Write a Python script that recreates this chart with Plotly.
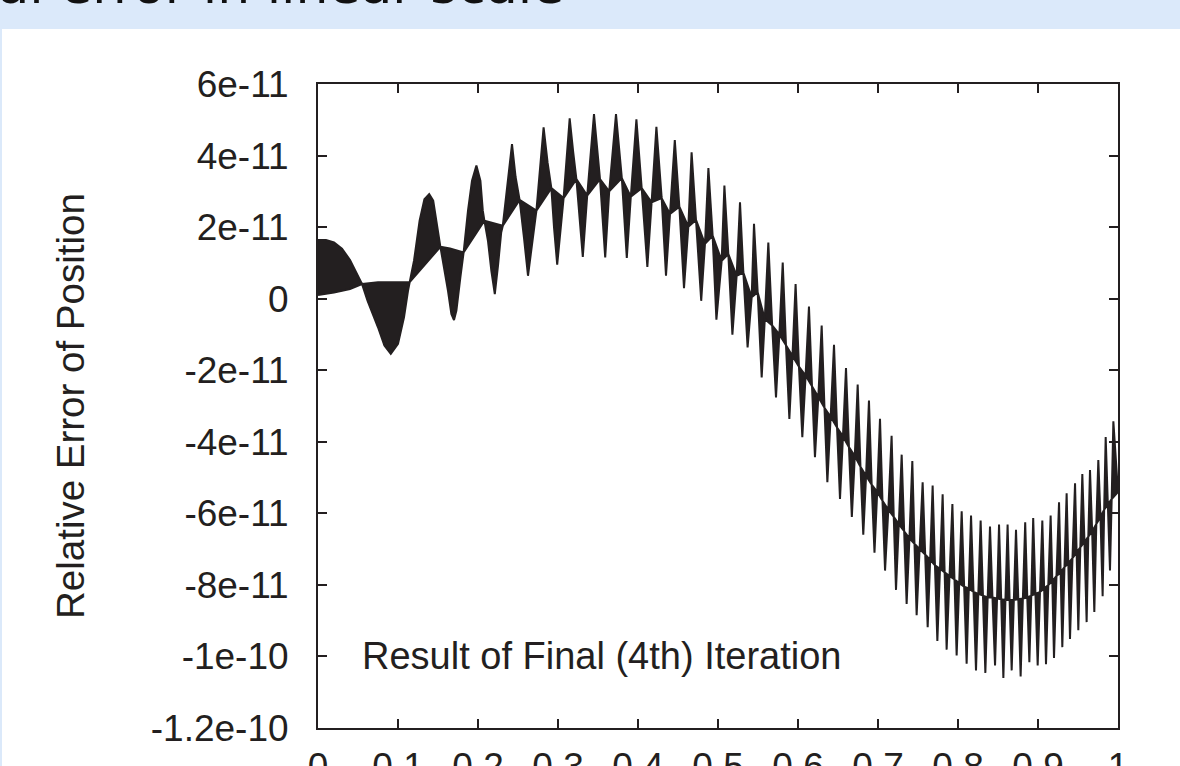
import plotly.graph_objects as go

# ---- data (values in units of 1e-11) ----
# Dense part of the signal: outline of the oscillation band, upper edge
band_top_x = [0.000, 0.010, 0.020, 0.030, 0.040, 0.050, 0.055,
              0.075, 0.100, 0.1146,
              0.120, 0.127, 0.133, 0.139, 0.144, 0.148, 0.152, 0.153,
              0.165, 0.182,
              0.1875, 0.1925, 0.198, 0.203, 0.206, 0.208,
              0.231,
              0.237, 0.2425, 0.247, 0.252,
              0.273,
              0.278, 0.282, 0.287, 0.2917,
              0.307,
              0.311, 0.3146, 0.319, 0.323,
              0.3365,
              0.345, 0.3525, 0.364,
              0.3725, 0.3798, 0.391,
              0.398, 0.4046, 0.417,
              0.423, 0.4296, 0.440,
              0.446, 0.4517, 0.4629,
              0.467, 0.4725, 0.4837,
              0.488, 0.4933, 0.5046,
              0.508, 0.5129, 0.5233,
              0.5275, 0.5317, 0.5421,
              0.545, 0.5496, 0.5585]
band_top_y = [1.64, 1.64, 1.57, 1.40, 1.08, 0.62, 0.41,
              0.46, 0.45, 0.46,
              1.06, 2.18, 2.78, 2.92, 2.74, 2.18, 1.53, 1.45,
              1.40, 1.29,
              2.46, 3.30, 3.72, 3.30, 2.46, 2.18,
              2.04,
              3.30, 4.32, 3.40, 2.76,
              2.46,
              3.70, 4.79, 3.80, 3.09,
              2.81,
              4.00, 5.04, 4.10, 3.34,
              2.88,
              5.16, 3.34, 3.00,
              5.16, 3.37, 2.85,
              5.01, 3.09, 2.69,
              4.80, 2.81, 2.37,
              4.43, 2.57, 2.01,
              4.09, 2.20, 1.53,
              3.65, 1.76, 1.06,
              3.16, 1.25, 0.64,
              2.69, 0.73, 0.04,
              2.09, 0.18, -0.57]

# Dense part: lower edge of the band
band_bot_x = [0.000, 0.020, 0.040, 0.055,
              0.062, 0.075, 0.083, 0.091, 0.100, 0.1075, 0.1125, 0.1146,
              0.153,
              0.156, 0.1625, 0.1667, 0.170, 0.173, 0.178, 0.182,
              0.208,
              0.2125, 0.2167, 0.221, 0.225, 0.229, 0.231,
              0.252,
              0.2575, 0.2625, 0.268, 0.273,
              0.2917,
              0.295, 0.299, 0.303, 0.307,
              0.323,
              0.331, 0.3365, 0.3525,
              0.359, 0.364, 0.3798,
              0.386, 0.391, 0.4046,
              0.4117, 0.417, 0.4296,
              0.435, 0.440, 0.4517,
              0.4575, 0.4629, 0.4725,
              0.479, 0.4837, 0.4933,
              0.498, 0.5046, 0.5129,
              0.518, 0.5233, 0.5317,
              0.537, 0.5421, 0.5496,
              0.5546, 0.5585]
band_bot_y = [0.10, 0.17, 0.27, 0.41,
              -0.06, -0.80, -1.31, -1.54, -1.26, -0.52, 0.22, 0.46,
              1.45,
              1.15, 0.22, -0.43, -0.60, -0.33, 0.60, 1.29,
              2.18,
              1.61, 0.78, 0.13, 0.92, 1.85, 2.04,
              2.76,
              1.70, 0.64, 1.60, 2.46,
              3.09,
              2.00, 0.95, 1.90, 2.81,
              3.34,
              1.17, 2.88, 3.34,
              1.15, 3.00, 3.37,
              1.14, 2.85, 3.09,
              0.89, 2.69, 2.81,
              0.64, 2.37, 2.57,
              0.29, 2.01, 2.20,
              -0.06, 1.53, 1.76,
              -0.59, 1.06, 1.25,
              -1.01, 0.64, 0.73,
              -1.36, 0.04, 0.18,
              -2.20, -0.57]

# Sparse part: upward spike tips
crest_x = [0.5629, 0.5809, 0.597, 0.6137, 0.6296, 0.645, 0.660, 0.6746,
           0.6887, 0.7025, 0.717, 0.7296, 0.7429, 0.7558, 0.7683, 0.7808,
           0.793, 0.8046, 0.8163, 0.8283, 0.840, 0.8513, 0.862, 0.8725,
           0.884, 0.894, 0.9054, 0.9158, 0.9263, 0.9358, 0.9463, 0.9554,
           0.965, 0.9754, 0.9846, 0.9942]
crest_y = [1.57, 1.01, 0.41, -0.22, -0.75, -1.29, -1.94, -2.40,
           -2.85, -3.36, -3.83, -4.36, -4.54, -5.13, -5.22, -5.47,
           -5.74, -5.94, -6.06, -6.20, -6.37, -6.31, -6.31, -6.46,
           -6.25, -6.13, -6.20, -6.06, -5.69, -5.44, -5.16, -4.90,
           -4.79, -4.51, -3.87, -3.43]

# Sparse part: downward spike tips
trough_x = [0.5725, 0.5892, 0.6054, 0.6212, 0.6367, 0.6525, 0.6673, 0.6816,
            0.6956, 0.7088, 0.7225, 0.7358, 0.7483, 0.7621, 0.7742, 0.7858,
            0.7983, 0.8108, 0.8225, 0.8342, 0.8463, 0.8567, 0.8671, 0.8783,
            0.8892, 0.8996, 0.910, 0.920, 0.9304, 0.940, 0.9504, 0.9608,
            0.9704, 0.9808, 0.990]
trough_y = [-2.76, -3.36, -3.87, -4.43, -5.13, -5.60, -6.10, -6.60,
            -7.10, -7.60, -8.14, -8.53, -8.85, -9.18, -9.57, -9.81,
            -9.97, -10.20, -10.39, -10.46, -10.25, -10.60, -10.39, -10.56,
            -10.16, -10.25, -10.22, -10.04, -9.74, -9.51, -9.27, -9.04,
            -8.76, -8.32, -7.60]

# Sparse part: centre of the oscillation between neighbouring spikes
centre_x = [0.5677, 0.5767, 0.585, 0.5931, 0.6012, 0.6095, 0.6175, 0.6254,
            0.6331, 0.6408, 0.6488, 0.6562, 0.6637, 0.671, 0.6781, 0.6851,
            0.6921, 0.699, 0.7056, 0.7129, 0.7197, 0.726, 0.7327, 0.7393,
            0.7456, 0.752, 0.759, 0.7652, 0.7712, 0.7775, 0.7833, 0.7894,
            0.7956, 0.8015, 0.8077, 0.8135, 0.8194, 0.8254, 0.8312, 0.8371,
            0.8431, 0.8488, 0.854, 0.8593, 0.8645, 0.8698, 0.8754, 0.8811,
            0.8866, 0.8916, 0.8968, 0.9025, 0.9077, 0.9129, 0.9179, 0.9231,
            0.9283, 0.9331, 0.9379, 0.9431, 0.9483, 0.9529, 0.9581, 0.9629,
            0.9677, 0.9729, 0.9781, 0.9827, 0.9873, 0.9921, 1.000]
centre_y = [-0.75, -1.00, -1.30, -1.60, -1.90, -2.15, -2.45, -2.75,
            -3.05, -3.30, -3.60, -3.85, -4.15, -4.40, -4.70, -4.95,
            -5.20, -5.40, -5.65, -5.90, -6.10, -6.30, -6.50, -6.70,
            -6.85, -7.00, -7.15, -7.30, -7.45, -7.55, -7.65, -7.75,
            -7.85, -7.95, -8.05, -8.10, -8.20, -8.25, -8.30, -8.35,
            -8.35, -8.38, -8.40, -8.42, -8.42, -8.42, -8.40, -8.38,
            -8.35, -8.30, -8.25, -8.20, -8.10, -8.00, -7.90, -7.75,
            -7.65, -7.50, -7.40, -7.25, -7.10, -6.95, -6.80, -6.65,
            -6.50, -6.30, -6.10, -5.90, -5.75, -5.60, -5.40]

x_ticks = [0.0, 0.1, 0.2, 0.3, 0.4, 0.5, 0.6, 0.7, 0.8, 0.9, 1.0]
x_tick_text = ["0", "0.1", "0.2", "0.3", "0.4", "0.5", "0.6", "0.7", "0.8", "0.9", "1"]
y_ticks = [-1.2e-10, -1e-10, -8e-11, -6e-11, -4e-11, -2e-11, 0, 2e-11, 4e-11, 6e-11]
y_tick_text = ["-1.2e-10", "-1e-10", "-8e-11", "-6e-11", "-4e-11", "-2e-11",
               "0", "2e-11", "4e-11", "6e-11"]

SCALE = 1e-11
INK = "#231f20"
FONT = "Liberation Sans, Arial, Helvetica, sans-serif"

# upper edge: dense outline, then centre points and crests in order of x
upper = list(zip(band_top_x, band_top_y)) + sorted(
    list(zip(centre_x, centre_y)) + list(zip(crest_x, crest_y)))
# lower edge: dense outline, then centre points and troughs in order of x
lower = list(zip(band_bot_x, band_bot_y)) + sorted(
    list(zip(centre_x, centre_y)) + list(zip(trough_x, trough_y)))

outline = upper + lower[::-1]
band_x = [p[0] for p in outline]
band_y = [p[1] * SCALE for p in outline]

fig = go.Figure()
fig.add_trace(go.Scatter(x=band_x, y=band_y, mode="lines", fill="toself",
                         fillcolor=INK, line=dict(color=INK, width=2.0),
                         hoverinfo="skip", showlegend=False))

L, R, T, B = 318, 62, 84, 38
PW, PH = 1180 - L - R, 766 - T - B


def px_x(p):
    return (p - L) / PW


def px_y(p):
    return (766 - B - p) / PH


band_blue = "#dbe9fa"
fig.update_layout(
    width=1180, height=766,
    margin=dict(l=L, r=R, t=T, b=B, pad=0, autoexpand=False),
    paper_bgcolor="white", plot_bgcolor="white",
    font=dict(family=FONT, size=37, color=INK),
    shapes=[
        dict(type="rect", xref="paper", yref="paper", layer="below",
             x0=px_x(0), x1=px_x(1180), y0=px_y(29), y1=px_y(0),
             fillcolor=band_blue, line=dict(width=0)),
        dict(type="rect", xref="paper", yref="paper", layer="below",
             x0=px_x(0), x1=px_x(2), y0=px_y(766), y1=px_y(29),
             fillcolor=band_blue, line=dict(width=0)),
    ],
    annotations=[
        dict(text="Positional error in linear scale", xref="paper", yref="paper",
             x=px_x(566), y=px_y(17), xanchor="right", yanchor="bottom",
             showarrow=False, font=dict(family="DejaVu Sans", size=52, color="#111111")),
        dict(text="Relative Error of Position", xref="paper", yref="paper",
             x=px_x(70), y=0.5, textangle=-90, xanchor="center", yanchor="middle",
             showarrow=False, font=dict(size=38.5)),
        dict(text="Result of Final (4th) Iteration", xref="x", yref="y",
             x=0.0525, y=-1e-10, xanchor="left", yanchor="middle",
             showarrow=False, font=dict(size=38)),
    ],
)

axis_common = dict(showline=True, linecolor=INK, linewidth=2, mirror="ticks",
                   ticks="inside", ticklen=9, tickwidth=1.5, tickcolor=INK,
                   showgrid=False, zeroline=False, automargin=False)
fig.update_xaxes(range=[0, 1], tickvals=x_ticks, ticktext=x_tick_text,
                 ticklabelstandoff=5, **axis_common)
fig.update_yaxes(range=[-1.2e-10, 6e-11], tickvals=y_ticks, ticktext=y_tick_text,
                 ticklabelstandoff=20, **axis_common)

fig.write_html("out.html")
